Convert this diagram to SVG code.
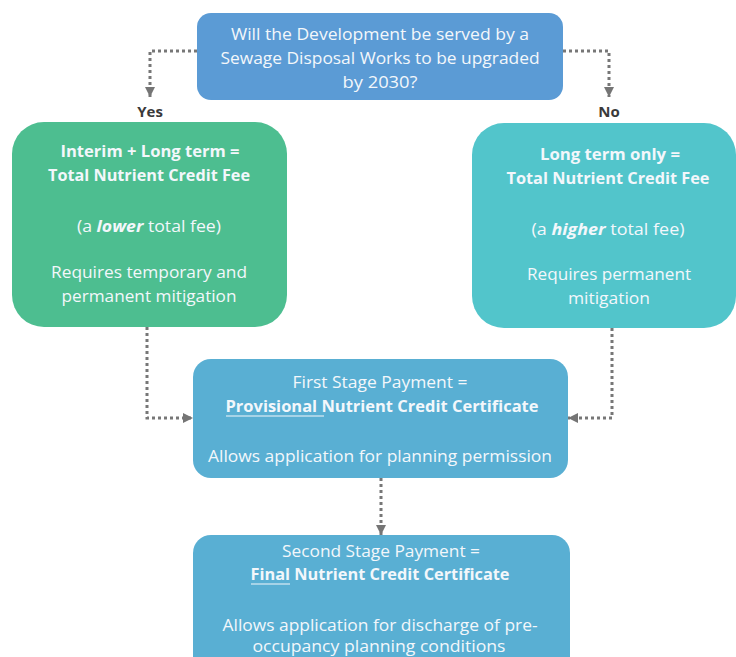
<svg xmlns="http://www.w3.org/2000/svg" width="736" height="657" viewBox="0 0 736 657">
<defs>
<marker id="ah" viewBox="0 0 10 10" refX="10" refY="5" markerWidth="10" markerHeight="10" markerUnits="userSpaceOnUse" orient="auto">
<path d="M0,0 L10,5 L0,10 z" fill="#757575"/>
</marker>
<style>
.t{font-family:"Open Sans","Liberation Sans",sans-serif;font-size:16px;fill:#f3f7fb;text-anchor:middle}
.b{font-weight:bold;font-size:16.5px}
.lbl{font-family:"Open Sans","Liberation Sans",sans-serif;font-size:15px;font-weight:bold;fill:#3a3a3a;text-anchor:middle}
.c{fill:none;stroke:#777;stroke-width:3;stroke-dasharray:3 3;marker-end:url(#ah)}
.u{stroke:#f3f7fb;stroke-width:1.2}
</style>
</defs>
<rect width="736" height="657" fill="#ffffff"/>
<g id="connectors">
<path class="c" d="M197,51 H150 V97"/>
<path class="c" d="M563,51 H609 V97"/>
<path class="c" d="M147,327 V418 H193"/>
<path class="c" d="M612,328 V418 H568"/>
<path class="c" d="M381,478 V535"/>
<text class="lbl" x="150" y="117">Yes</text>
<text class="lbl" x="609" y="117">No</text>
</g>
<g id="question">
<rect x="197" y="13" width="366" height="87" rx="14" fill="#5b9bd5"/>
<text class="t" x="380" y="40" textLength="298" lengthAdjust="spacingAndGlyphs">Will the Development be served by a</text>
<text class="t" x="380" y="64" textLength="319" lengthAdjust="spacingAndGlyphs">Sewage Disposal Works to be upgraded</text>
<text class="t" x="380" y="88" textLength="75" lengthAdjust="spacingAndGlyphs">by 2030?</text>
</g>
<g id="yes-box">
<rect x="12" y="122" width="275" height="205" rx="32" fill="#4dbe90"/>
<text class="t b" x="150" y="157" textLength="179" lengthAdjust="spacingAndGlyphs">Interim + Long term =</text>
<text class="t b" x="149" y="181" textLength="202" lengthAdjust="spacingAndGlyphs">Total Nutrient Credit Fee</text>
<text class="t" x="149" y="232" textLength="144" lengthAdjust="spacingAndGlyphs">(a <tspan font-weight="bold" font-style="italic">lower</tspan> total fee)</text>
<text class="t" x="149" y="278" textLength="196" lengthAdjust="spacingAndGlyphs">Requires temporary and</text>
<text class="t" x="149" y="302" textLength="175" lengthAdjust="spacingAndGlyphs">permanent mitigation</text>
</g>
<g id="no-box">
<rect x="472" y="123" width="264" height="205" rx="32" fill="#52c5cb"/>
<text class="t b" x="610" y="160" textLength="140" lengthAdjust="spacingAndGlyphs">Long term only =</text>
<text class="t b" x="608" y="184" textLength="203" lengthAdjust="spacingAndGlyphs">Total Nutrient Credit Fee</text>
<text class="t" x="608" y="235" textLength="153" lengthAdjust="spacingAndGlyphs">(a <tspan font-weight="bold" font-style="italic">higher</tspan> total fee)</text>
<text class="t" x="609" y="280" textLength="164" lengthAdjust="spacingAndGlyphs">Requires permanent</text>
<text class="t" x="609" y="304" textLength="82" lengthAdjust="spacingAndGlyphs">mitigation</text>
</g>
<g id="first-stage">
<rect x="193" y="359" width="375" height="119" rx="18" fill="#59afd3"/>
<text class="t" x="380" y="388" textLength="175" lengthAdjust="spacingAndGlyphs">First Stage Payment =</text>
<text class="t b" x="382" y="412" textLength="313" lengthAdjust="spacingAndGlyphs">Provisional Nutrient Credit Certificate</text>
<line class="u" x1="226" y1="416" x2="324" y2="416"/>
<text class="t" x="380" y="462" textLength="344" lengthAdjust="spacingAndGlyphs">Allows application for planning permission</text>
</g>
<g id="second-stage">
<rect x="193" y="535" width="377" height="140" rx="18" fill="#59afd3"/>
<text class="t" x="381" y="557" textLength="198" lengthAdjust="spacingAndGlyphs">Second Stage Payment =</text>
<text class="t b" x="380" y="580" textLength="259" lengthAdjust="spacingAndGlyphs">Final Nutrient Credit Certificate</text>
<line class="u" x1="251" y1="584" x2="290" y2="584"/>
<text class="t" x="380" y="631" textLength="315" lengthAdjust="spacingAndGlyphs">Allows application for discharge of pre-</text>
<text class="t" x="379" y="652" textLength="253" lengthAdjust="spacingAndGlyphs">occupancy planning conditions</text>
</g>
</svg>
